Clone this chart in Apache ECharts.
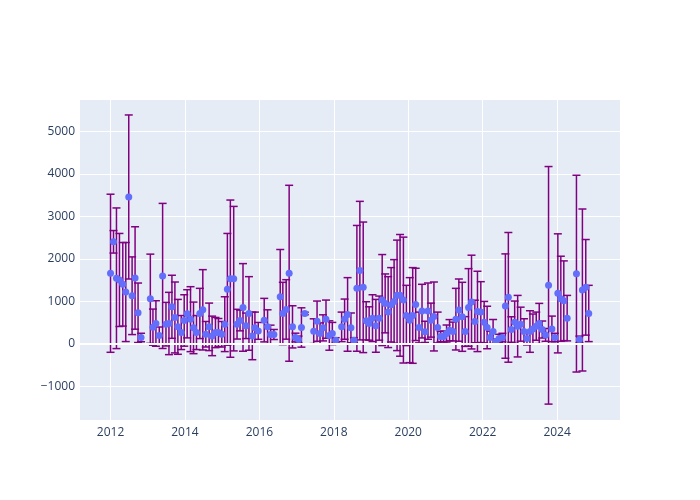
<!DOCTYPE html>
<html><head><meta charset="utf-8">
<script src="https://cdn.jsdelivr.net/npm/echarts@6/dist/echarts.min.js"></script>
<style>html,body{margin:0;padding:0;background:#fff}#c{width:700px;height:500px}</style>
</head><body><div id="c"></div>
<script>
const dates = [2012.00,2012.08,2012.16,2012.24,2012.33,2012.41,2012.49,2012.58,2012.66,2012.74,2012.82,
2013.07,2013.14,2013.22,2013.31,2013.40,2013.49,2013.57,2013.65,2013.73,2013.81,2013.90,2013.98,
2014.06,2014.15,2014.23,2014.31,2014.40,2014.48,2014.56,2014.65,2014.73,2014.82,2014.90,2014.99,
2015.07,2015.14,2015.22,2015.31,2015.40,2015.48,2015.56,2015.64,2015.72,2015.81,2015.88,2015.97,
2016.13,2016.22,2016.30,2016.39,2016.56,2016.63,2016.72,2016.80,2016.89,2016.97,
2017.05,2017.13,2017.22,2017.46,2017.55,2017.63,2017.71,2017.79,2017.88,2017.96,
2018.05,2018.21,2018.29,2018.37,2018.46,2018.54,2018.62,2018.70,2018.79,2018.87,2018.95,
2019.04,2019.13,2019.22,2019.30,2019.38,2019.46,2019.54,2019.62,2019.70,2019.78,2019.87,2019.95,
2020.04,2020.12,2020.20,2020.29,2020.37,2020.45,2020.53,2020.61,2020.69,2020.79,2020.87,2020.95,
2021.03,2021.11,2021.20,2021.28,2021.36,2021.45,2021.53,2021.62,2021.70,2021.79,2021.86,2021.95,
2022.04,2022.12,2022.20,2022.28,2022.36,2022.44,2022.53,2022.61,2022.69,2022.77,2022.86,2022.94,
2023.02,2023.11,2023.19,2023.27,2023.35,2023.44,2023.52,2023.60,2023.69,2023.77,2023.86,2023.94,
2024.02,2024.10,2024.18,2024.27,2024.52,2024.60,2024.68,2024.77,2024.85];
const values = [1663,2403,1545,1505,1403,1221,3458,1134,1552,733,151,
1063,395,481,198,1600,465,481,874,623,402,268,552,
709,583,378,268,717,803,228,402,189,268,268,228,
465,1285,1536,1536,465,552,859,426,717,189,378,307,
560,402,222,222,1110,717,812,1663,402,151,
104,387,717,300,536,245,378,583,198,245,
87,402,583,694,378,87,1308,1725,1332,544,481,
607,426,607,1032,954,749,921,1001,1143,1143,1032,670,
560,670,930,387,772,284,772,560,646,387,174,174,
245,323,292,583,796,638,292,859,985,529,765,749,
513,387,151,292,55,127,150,891,1096,339,513,418,
465,292,127,292,354,418,481,339,213,1379,354,151,
1190,1063,1016,607,1654,104,1269,1332,717];
const errors = [1860,265,1655,1095,983,1165,1930,914,1205,700,100,
1050,425,535,200,1707,513,733,742,834,646,400,605,
567,764,607,400,591,945,300,559,465,355,330,300,
645,1315,1850,1700,350,244,1031,300,866,560,371,198,
512,401,220,118,1112,733,700,2070,496,102,
80,463,30,291,473,250,307,449,346,261,
60,347,473,866,350,60,1480,1630,1536,449,393,
550,622,519,1071,693,834,875,983,1300,1432,1481,709,
1000,1126,850,362,631,250,662,400,811,362,120,130,
200,250,221,725,732,812,350,913,1103,500,945,716,
487,500,150,283,60,100,100,1228,1526,300,496,724,
400,300,150,489,350,331,473,200,150,2795,301,100,
1401,1001,938,535,2315,80,1906,1125,662];

const points = dates.map((d, i) => [d, values[i]]);
const bars = dates.map((d, i) => [d, values[i] - errors[i], values[i] + errors[i]]);

const chart = echarts.init(document.getElementById('c'), null, {renderer: 'canvas'});
const labelStyle = {color: '#2a3f5f', fontSize: 12, fontFamily: 'Open Sans, verdana, arial, sans-serif'};
chart.setOption({
  animation: false,
  backgroundColor: '#ffffff',
  grid: {left: 80, right: 80, top: 100, bottom: 80, show: true, backgroundColor: '#E5ECF6', borderWidth: 0},
  xAxis: {
    type: 'value', min: 2011.18, max: 2025.69, splitNumber: 7,
    axisLine: {show: false}, axisTick: {show: false},
    splitLine: {show: true, showMinLine: false, showMaxLine: false, lineStyle: {color: '#ffffff', width: 1}},
    axisLabel: Object.assign({margin: 7, showMinLabel: false, showMaxLabel: false,
      formatter: v => Math.abs(v - Math.round(v)) < 1e-6 ? String(Math.round(v)) : ''}, labelStyle)
  },
  yAxis: {
    type: 'value', min: -1790, max: 5740, splitNumber: 8,
    axisLine: {show: false}, axisTick: {show: false},
    splitLine: {show: true, showMinLine: false, showMaxLine: false, lineStyle: {color: '#ffffff', width: 1}},
    axisLabel: Object.assign({margin: 5, showMinLabel: false, showMaxLabel: false,
      formatter: v => v < 0 ? '\u2212' + Math.abs(v) : String(v)}, labelStyle)
  },
  series: [
    {
      type: 'line', data: [], z: 1, silent: true,
      markLine: {silent: true, symbol: 'none', label: {show: false},
        lineStyle: {color: '#ffffff', width: 2, type: 'solid'}, data: [{yAxis: 0}]}
    },
    {
      type: 'custom', data: bars, z: 2, clip: true,
      encode: {x: 0, y: [1, 2]},
      renderItem: function (params, api) {
        const x = api.value(0);
        const lo = api.coord([x, api.value(1)]);
        const hi = api.coord([x, api.value(2)]);
        const w = 4;
        const st = {stroke: '#800080', lineWidth: 1.5};
        return {type: 'group', children: [
          {type: 'line', shape: {x1: lo[0], y1: lo[1], x2: hi[0], y2: hi[1]}, style: st},
          {type: 'line', shape: {x1: hi[0] - w, y1: hi[1], x2: hi[0] + w, y2: hi[1]}, style: st},
          {type: 'line', shape: {x1: lo[0] - w, y1: lo[1], x2: lo[0] + w, y2: lo[1]}, style: st}
        ]};
      }
    },
    {
      type: 'scatter', data: points, z: 3, symbol: 'circle', symbolSize: 7,
      itemStyle: {color: '#636EFA', opacity: 1}
    }
  ]
});
</script></body></html>
